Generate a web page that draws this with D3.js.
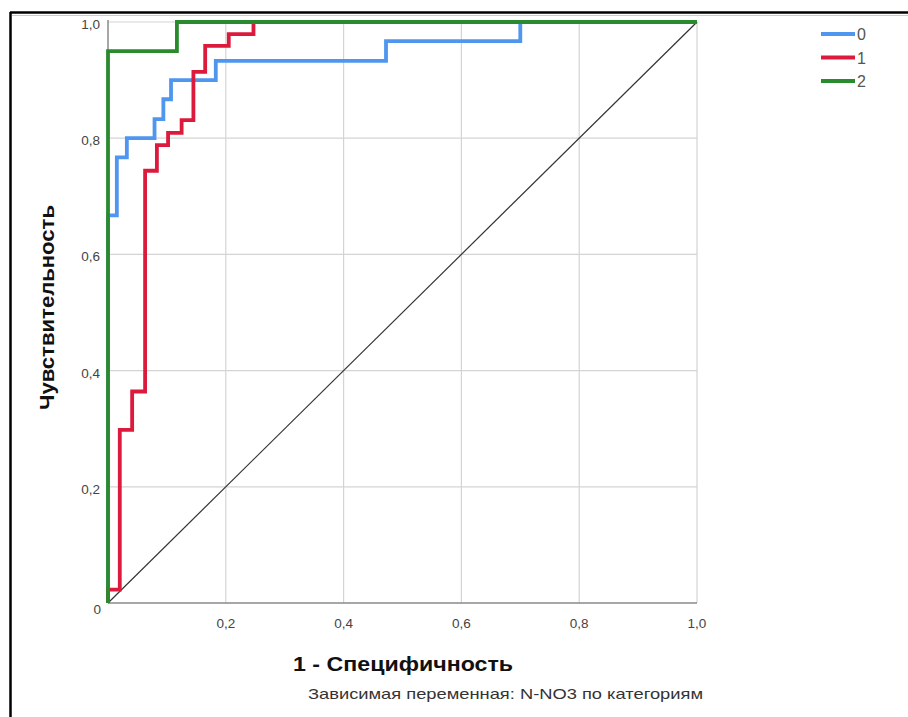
<!DOCTYPE html>
<head>
<meta charset="utf-8" />
<script src="https://d3js.org/d3.v7.min.js"></script>
<style>
    body { margin: 0; background: #fff; font-family: "Liberation Sans", Arial, sans-serif; }
</style>
</head>
<body>
<div id="chart"></div>
<script>
    // ROC points (corners)
    var blueFpr = [0, 0, 0.015, 0.032, 0.079, 0.094, 0.107, 0.183, 0.472, 0.70, 1];
    var blueTpr = [0, 0.667, 0.767, 0.8, 0.833, 0.867, 0.9, 0.933, 0.967, 1, 1];
    var redFpr = [0, 0, 0.02, 0.041, 0.063, 0.083, 0.102, 0.125, 0.145, 0.165, 0.205, 0.247, 1];
    var redTpr = [0, 0.023, 0.298, 0.364, 0.744, 0.788, 0.809, 0.831, 0.914, 0.959, 0.979, 1, 1];
    var greenFpr = [0, 0, 0.117, 1];
    var greenTpr = [0, 0.95, 1, 1];
    var seriesNames = ["0", "1", "2"];
    var tickValues = [0.2, 0.4, 0.6, 0.8, 1.0];
    var tickLabels = ["0,2", "0,4", "0,6", "0,8", "1,0"];

    var colors = ["#4f96ef", "#dc1a3c", "#2a8a2e"];
    var series = [
        d3.zip(blueFpr, blueTpr),
        d3.zip(redFpr, redTpr),
        d3.zip(greenFpr, greenTpr)
    ];

    var width = 908, height = 717;
    var svg = d3.select("#chart").append("svg")
        .attr("width", width).attr("height", height);

    // outer frame (top + left only)
    svg.append("line").attr("x1", 10).attr("y1", 12.5).attr("x2", width).attr("y2", 12.5)
        .attr("stroke", "#000").attr("stroke-width", 2.5);
    svg.append("line").attr("x1", 10.5).attr("y1", 12).attr("x2", 10.5).attr("y2", height)
        .attr("stroke", "#000").attr("stroke-width", 2.5);
    svg.append("line").attr("x1", 12).attr("y1", 15.5).attr("x2", width).attr("y2", 15.5)
        .attr("stroke", "#ccc").attr("stroke-width", 1);

    var x = d3.scaleLinear().domain([0, 1]).range([108, 697]);
    var y = d3.scaleLinear().domain([0, 1]).range([603, 22]);

    // grid
    var grid = svg.append("g");
    grid.selectAll(".gx").data(tickValues).join("line")
        .attr("x1", function(d) { return x(d); }).attr("x2", function(d) { return x(d); })
        .attr("y1", y(0)).attr("y2", y(1))
        .attr("stroke", "#d4d4d4").attr("stroke-width", 1.2);
    grid.selectAll(".gy").data(tickValues).join("line")
        .attr("x1", x(0)).attr("x2", x(1))
        .attr("y1", function(d) { return y(d); }).attr("y2", function(d) { return y(d); })
        .attr("stroke", "#d4d4d4").attr("stroke-width", 1.2);

    // axes lines
    svg.append("line").attr("x1", x(0)).attr("x2", x(1)).attr("y1", y(0)).attr("y2", y(0))
        .attr("stroke", "#8a8a8a").attr("stroke-width", 1.5);
    svg.append("line").attr("x1", x(0)).attr("x2", x(0)).attr("y1", y(0)).attr("y2", y(1) - 2)
        .attr("stroke", "#8a8a8a").attr("stroke-width", 1.5);

    // tick labels
    var labels = svg.append("g").style("font-size", "13.5px").attr("fill", "#444");
    labels.selectAll(".xl").data(tickValues).join("text")
        .attr("x", function(d) { return x(d); })
        .attr("y", 628)
        .attr("text-anchor", "middle")
        .text(function(d, i) { return tickLabels[i]; });
    labels.selectAll(".yl").data(tickValues).join("text")
        .attr("x", 100)
        .attr("y", function(d) { return y(d) + 7; })
        .attr("text-anchor", "end")
        .text(function(d, i) { return tickLabels[i]; });
    labels.append("text").attr("x", 101).attr("y", y(0) + 11)
        .attr("text-anchor", "end").text("0");

    // diagonal
    svg.append("line").attr("x1", x(0)).attr("y1", y(0)).attr("x2", x(1)).attr("y2", y(1))
        .attr("stroke", "#333").attr("stroke-width", 1.2);

    var line = d3.line()
        .x(function(d) { return x(d[0]); })
        .y(function(d) { return y(d[1]); })
        .curve(d3.curveStepAfter);

    svg.append("g").selectAll("path").data(series).join("path")
        .attr("d", line)
        .attr("fill", "none")
        .attr("stroke", function(d, i) { return colors[i]; })
        .attr("stroke-width", 3.8);

    // legend
    var legend = svg.append("g");
    legend.selectAll("line").data(seriesNames).join("line")
        .attr("x1", 821).attr("x2", 855)
        .attr("y1", function(d, i) { return 34 + i * 23.5; })
        .attr("y2", function(d, i) { return 34 + i * 23.5; })
        .attr("stroke", function(d, i) { return colors[i]; })
        .attr("stroke-width", 3.8);
    legend.selectAll("text").data(seriesNames).join("text")
        .attr("x", 857)
        .attr("y", function(d, i) { return 34 + i * 23.5 + 6; })
        .style("font-size", "16px").attr("fill", "#555")
        .text(function(d) { return d; });

    // axis titles
    svg.append("text")
        .attr("x", 293).attr("y", 671)
        .attr("textLength", 220).attr("lengthAdjust", "spacingAndGlyphs")
        .style("font-size", "20px").style("font-weight", "bold").attr("fill", "#111")
        .text("1 - Специфичность");
    svg.append("text")
        .attr("transform", "translate(54,410) rotate(-90)")
        .attr("textLength", 205).attr("lengthAdjust", "spacingAndGlyphs")
        .style("font-size", "20px").style("font-weight", "bold").attr("fill", "#111")
        .text("Чувствительность");

    svg.append("text")
        .attr("x", 308).attr("y", 699)
        .attr("textLength", 395).attr("lengthAdjust", "spacingAndGlyphs")
        .style("font-size", "15px").attr("fill", "#333")
        .text("Зависимая переменная: N-NO3 по категориям");
</script>
</body>
